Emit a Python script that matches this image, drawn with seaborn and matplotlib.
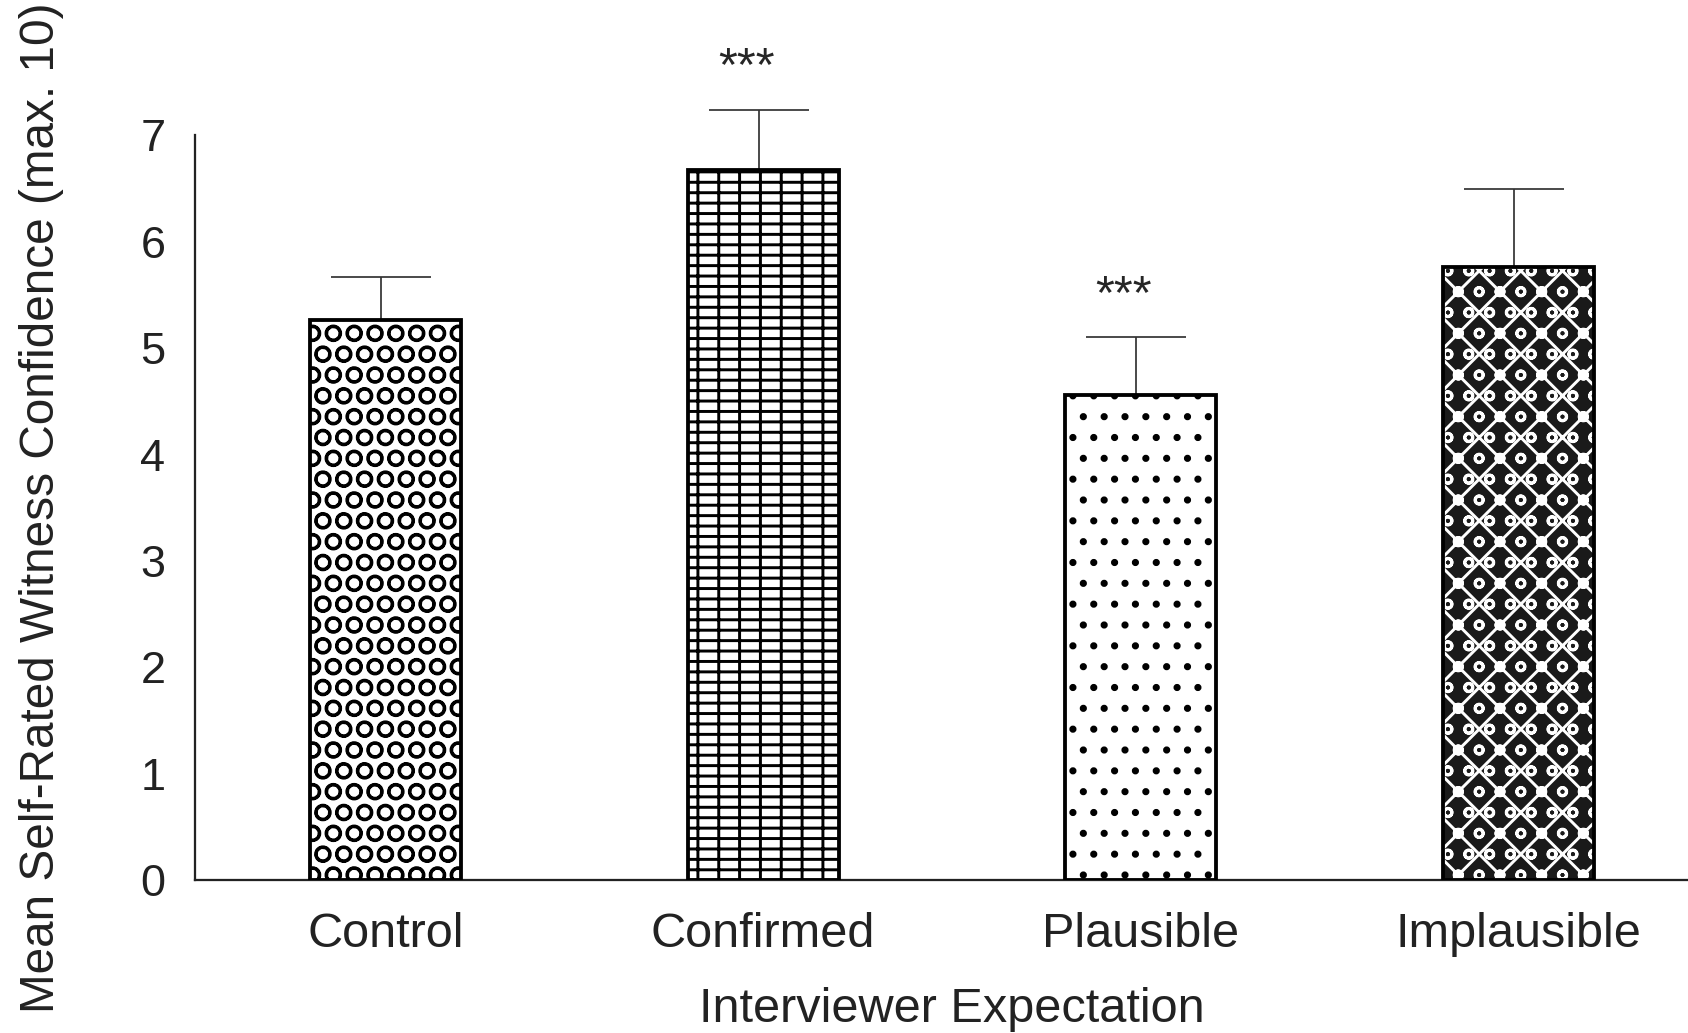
import numpy as np
import pandas as pd
import matplotlib
matplotlib.use("Agg")
import matplotlib.pyplot as plt
import seaborn as sns

# values
conditions = ["Control", "Confirmed", "Plausible", "Implausible"]
means = [5.26, 6.67, 4.56, 5.76]
sems = [0.41, 0.57, 0.54, 0.74]
stars = ["", "***", "***", ""]

hatches = ["O", "-+", ".", "xo"]
faces = ["white", "white", "white", "#1a1a1a"]
hatch_cols = ["black", "black", "black", "white"]

sns.set_style("white")
plt.rcParams["font.family"] = ["Liberation Sans", "DejaVu Sans"]
plt.rcParams["hatch.linewidth"] = 1.7

df = pd.DataFrame({"cond": conditions, "mean": means, "sem": sems})

# dpi 125 so the hatch tiles come out at the size of the printed patterns
fig = plt.figure(figsize=(13.504, 8.264), dpi=125)
ax = fig.add_axes([0.1155, 0.148, 0.8845, 0.721])

sns.barplot(data=df, x="cond", y="mean", color="white", width=0.4,
            errorbar=None, ax=ax)

for p, h, fc, hc in zip(ax.patches, hatches, faces, hatch_cols):
    p.set_facecolor(fc)
    p.set_hatch(h)
    p.set_edgecolor(hc)
    p.set_linewidth(0)
    # black outline on top of the hatched fill
    ax.add_patch(plt.Rectangle(p.get_xy(), p.get_width(), p.get_height(),
                               fill=False, edgecolor="black", lw=2.2, zorder=3))

x = np.arange(len(conditions))
eb = ax.errorbar(x - 0.012, df["mean"], yerr=[np.zeros(len(x)), df["sem"]],
                 fmt="none", ecolor="#333333", elinewidth=1.0, capsize=29,
                 capthick=1.0, zorder=1)
for art in eb.lines[1] + eb.lines[2]:
    art.set_clip_on(False)

for i, s in enumerate(stars):
    if s:
        ax.text(i - 0.045, means[i] + sems[i] + 0.28, s, ha="center",
                va="baseline", fontsize=28, clip_on=False)

ax.set_xlim(-0.505, 3.45)
ax.set_ylim(0, 7)
ax.set_yticks(range(8))
sns.despine(ax=ax)
for sp in ["left", "bottom"]:
    ax.spines[sp].set_linewidth(1.3)
    ax.spines[sp].set_color("#222222")
ax.tick_params(axis="both", length=0, colors="#222222")
ax.tick_params(axis="y", pad=17, labelsize=26)
ax.tick_params(axis="x", pad=18.5, labelsize=28)

ax.set_xlabel("Interviewer Expectation", fontsize=28, color="#222222",
              va="baseline")
ax.set_ylabel("Mean Self-Rated Witness Confidence (max. 10)", fontsize=27.5,
              color="#222222")
ax.xaxis.set_label_coords(0.507, -0.19)
ax.yaxis.set_label_coords(-0.088, 0.5)

fig.savefig("out.png", dpi=125)
